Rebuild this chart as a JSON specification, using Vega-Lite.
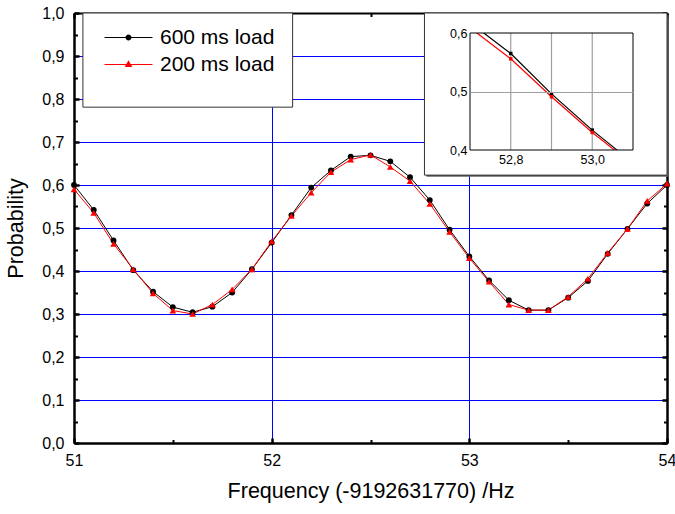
{
  "$schema": "https://vega.github.io/schema/vega-lite/v6.json",
  "width": 593,
  "height": 430,
  "autosize": {"type": "none"},
  "padding": {"left": 74, "top": 13, "right": 8, "bottom": 71},
  "background": "white",
  "config": {
    "view": {"stroke": null},
    "font": "Liberation Sans",
    "axis": {"labelFont": "Liberation Sans", "titleFont": "Liberation Sans", "labelColor": "black", "titleColor": "black", "domainColor": "black", "tickColor": "black", "titleFontWeight": "normal"}
  },
  "datasets": {
    "obs": [
      {"freq": 51.0, "load": "600 ms load", "prob": 0.600}, {"freq": 51.0, "load": "200 ms load", "prob": 0.590},
      {"freq": 51.1, "load": "600 ms load", "prob": 0.542}, {"freq": 51.1, "load": "200 ms load", "prob": 0.535},
      {"freq": 51.2, "load": "600 ms load", "prob": 0.471}, {"freq": 51.2, "load": "200 ms load", "prob": 0.463},
      {"freq": 51.3, "load": "600 ms load", "prob": 0.402}, {"freq": 51.3, "load": "200 ms load", "prob": 0.404},
      {"freq": 51.4, "load": "600 ms load", "prob": 0.352}, {"freq": 51.4, "load": "200 ms load", "prob": 0.348},
      {"freq": 51.5, "load": "600 ms load", "prob": 0.316}, {"freq": 51.5, "load": "200 ms load", "prob": 0.308},
      {"freq": 51.6, "load": "600 ms load", "prob": 0.304}, {"freq": 51.6, "load": "200 ms load", "prob": 0.300},
      {"freq": 51.7, "load": "600 ms load", "prob": 0.317}, {"freq": 51.7, "load": "200 ms load", "prob": 0.322},
      {"freq": 51.8, "load": "600 ms load", "prob": 0.350}, {"freq": 51.8, "load": "200 ms load", "prob": 0.357},
      {"freq": 51.9, "load": "600 ms load", "prob": 0.404}, {"freq": 51.9, "load": "200 ms load", "prob": 0.404},
      {"freq": 52.0, "load": "600 ms load", "prob": 0.466}, {"freq": 52.0, "load": "200 ms load", "prob": 0.469},
      {"freq": 52.1, "load": "600 ms load", "prob": 0.530}, {"freq": 52.1, "load": "200 ms load", "prob": 0.528},
      {"freq": 52.2, "load": "600 ms load", "prob": 0.594}, {"freq": 52.2, "load": "200 ms load", "prob": 0.582},
      {"freq": 52.3, "load": "600 ms load", "prob": 0.634}, {"freq": 52.3, "load": "200 ms load", "prob": 0.630},
      {"freq": 52.4, "load": "600 ms load", "prob": 0.666}, {"freq": 52.4, "load": "200 ms load", "prob": 0.659},
      {"freq": 52.5, "load": "600 ms load", "prob": 0.669}, {"freq": 52.5, "load": "200 ms load", "prob": 0.670},
      {"freq": 52.6, "load": "600 ms load", "prob": 0.655}, {"freq": 52.6, "load": "200 ms load", "prob": 0.642},
      {"freq": 52.7, "load": "600 ms load", "prob": 0.618}, {"freq": 52.7, "load": "200 ms load", "prob": 0.609},
      {"freq": 52.8, "load": "600 ms load", "prob": 0.565}, {"freq": 52.8, "load": "200 ms load", "prob": 0.556},
      {"freq": 52.9, "load": "600 ms load", "prob": 0.496}, {"freq": 52.9, "load": "200 ms load", "prob": 0.491},
      {"freq": 53.0, "load": "600 ms load", "prob": 0.434}, {"freq": 53.0, "load": "200 ms load", "prob": 0.430},
      {"freq": 53.1, "load": "600 ms load", "prob": 0.378}, {"freq": 53.1, "load": "200 ms load", "prob": 0.375},
      {"freq": 53.2, "load": "600 ms load", "prob": 0.332}, {"freq": 53.2, "load": "200 ms load", "prob": 0.322},
      {"freq": 53.3, "load": "600 ms load", "prob": 0.309}, {"freq": 53.3, "load": "200 ms load", "prob": 0.309},
      {"freq": 53.4, "load": "600 ms load", "prob": 0.309}, {"freq": 53.4, "load": "200 ms load", "prob": 0.309},
      {"freq": 53.5, "load": "600 ms load", "prob": 0.338}, {"freq": 53.5, "load": "200 ms load", "prob": 0.340},
      {"freq": 53.6, "load": "600 ms load", "prob": 0.377}, {"freq": 53.6, "load": "200 ms load", "prob": 0.382},
      {"freq": 53.7, "load": "600 ms load", "prob": 0.440}, {"freq": 53.7, "load": "200 ms load", "prob": 0.442},
      {"freq": 53.8, "load": "600 ms load", "prob": 0.498}, {"freq": 53.8, "load": "200 ms load", "prob": 0.498},
      {"freq": 53.9, "load": "600 ms load", "prob": 0.557}, {"freq": 53.9, "load": "200 ms load", "prob": 0.563},
      {"freq": 54.0, "load": "600 ms load", "prob": 0.600}, {"freq": 54.0, "load": "200 ms load", "prob": 0.603}
    ]
  },
  "layer": [
    {
      "data": {"name": "obs"},
      "layer": [
        {
          "mark": {"type": "line", "strokeWidth": 1},
          "encoding": {
            "x": {"field": "freq", "type": "quantitative", "scale": {"domain": [51, 54], "nice": false, "zero": false},
              "axis": {"orient": "bottom", "values": [51, 52, 53, 54], "format": "d", "grid": true, "gridColor": "#0000ff", "gridWidth": 1, "domainWidth": 2.5, "tickSize": -5, "tickWidth": 2.5, "labelFontSize": 16, "labelPadding": 14, "labelFlush": false, "title": "Frequency (-9192631770) /Hz", "titleFontSize": 21.5, "titlePadding": 12}},
            "y": {"field": "prob", "type": "quantitative", "scale": {"domain": [0, 1], "nice": false, "zero": false},
              "axis": {"orient": "left", "values": [0, 0.1, 0.2, 0.3, 0.4, 0.5, 0.6, 0.7, 0.8, 0.9, 1.0], "labelExpr": "replace(format(datum.value, '.1f'), '.', ',')", "grid": true, "gridColor": "#0000ff", "gridWidth": 1, "domainWidth": 2.5, "tickSize": -5, "tickWidth": 2.5, "labelFontSize": 16, "labelPadding": 15, "labelFlush": false, "title": "Probability", "titleFontSize": 21.5, "titlePadding": 14}},
            "color": {"field": "load", "type": "nominal", "scale": {"domain": ["600 ms load", "200 ms load"], "range": ["#000000", "#ff0000"]},
              "legend": {"orient": "none", "legendX": 44, "legendY": 14, "title": null, "labelFontSize": 21, "labelFont": "Liberation Sans", "labelColor": "black", "symbolSize": 400, "symbolStrokeWidth": 0, "labelOffset": 21, "rowPadding": 5, "padding": 0,
                "encode": {"symbols": {"update": {
                  "shape": {"signal": "datum.value === '600 ms load' ? 'M-2.4,-0.05H2.4V0.05H-2.4ZM-0.3,0A0.3,0.3 0 1,1 0.3,0A0.3,0.3 0 1,1 -0.3,0Z' : 'M-2.4,-0.05H2.4V0.05H-2.4ZM0,-0.42L0.38,0.24L-0.38,0.24Z'"},
                  "fill": {"signal": "datum.value === '600 ms load' ? '#000000' : '#ff0000'"},
                  "fillOpacity": {"value": 1},
                  "strokeWidth": {"value": 0},
                  "opacity": {"value": 1}}}}}}
          }
        },
        {
          "transform": [{"filter": "datum.load === '600 ms load'"}],
          "mark": {"type": "point", "filled": true, "opacity": 1, "shape": "circle", "size": 34},
          "encoding": {
            "x": {"field": "freq", "type": "quantitative",
              "axis": {"orient": "bottom", "values": [51.5, 52.5, 53.5], "labels": false, "title": null, "domain": false, "grid": false, "tickSize": -3.5, "tickWidth": 2}},
            "y": {"field": "prob", "type": "quantitative",
              "axis": {"orient": "left", "values": [0.05, 0.15, 0.25, 0.35, 0.45, 0.55, 0.65, 0.75, 0.85, 0.95], "labels": false, "title": null, "domain": false, "grid": false, "tickSize": -3.5, "tickWidth": 2}},
            "color": {"field": "load", "type": "nominal"}
          }
        },
        {
          "transform": [{"filter": "datum.load === '200 ms load'"}],
          "mark": {"type": "point", "filled": true, "opacity": 1, "shape": "triangle-up", "size": 44},
          "encoding": {
            "x": {"field": "freq", "type": "quantitative", "axis": null},
            "y": {"field": "prob", "type": "quantitative", "axis": null},
            "color": {"field": "load", "type": "nominal"}
          }
        },
        {
          "data": {"values": [{}]},
          "mark": {"type": "rect", "fill": "white", "stroke": "#333333", "strokeWidth": 1},
          "encoding": {
            "x": {"datum": 51.045, "type": "quantitative",
              "axis": {"orient": "top", "values": [51, 52, 53, 54], "labels": false, "title": null, "grid": false, "domainWidth": 2, "tickSize": -5, "tickWidth": 2.5}},
            "x2": {"datum": 52.106},
            "y": {"datum": 1.0, "type": "quantitative",
              "axis": {"orient": "right", "values": [0, 0.1, 0.2, 0.3, 0.4, 0.5, 0.6, 0.7, 0.8, 0.9, 1.0], "labels": false, "title": null, "grid": false, "domainWidth": 2.5, "tickSize": -5, "tickWidth": 2.5}},
            "y2": {"datum": 0.781}
          }
        },
        {
          "data": {"values": [{}]},
          "mark": {"type": "rect", "fill": "#666666", "stroke": null},
          "encoding": {
            "x": {"datum": 52.783, "type": "quantitative", "axis": null},
            "x2": {"datum": 54.008},
            "y": {"datum": 0.995, "type": "quantitative", "axis": null},
            "y2": {"datum": 0.619}
          }
        },
        {
          "data": {"values": [{}]},
          "mark": {"type": "rect", "fill": "white", "stroke": "#333333", "strokeWidth": 1},
          "encoding": {
            "x": {"datum": 52.773, "type": "quantitative",
              "axis": {"orient": "top", "values": [51.5, 52.5, 53.5], "labels": false, "title": null, "grid": false, "domain": false, "tickSize": -3.5, "tickWidth": 2}},
            "x2": {"datum": 54},
            "y": {"datum": 1.0, "type": "quantitative",
              "axis": {"orient": "right", "values": [0.05, 0.15, 0.25, 0.35, 0.45, 0.55, 0.65, 0.75, 0.85, 0.95], "labels": false, "title": null, "grid": false, "domain": false, "tickSize": -3.5, "tickWidth": 2}},
            "y2": {"datum": 0.623}
          }
        }
      ],
      "resolve": {"axis": {"x": "independent", "y": "independent"}}
    },
    {
      "layer": [
        {
          "data": {"name": "obs"},
          "transform": [{"filter": "datum.load === '600 ms load' && datum.freq >= 52.75 && datum.freq <= 53.05"}],
          "mark": {"type": "rule", "color": "#a0a0a0", "strokeWidth": 1.2},
          "encoding": {
            "x": {"field": "freq", "type": "quantitative", "axis": null},
            "y": {"datum": 0.4, "type": "quantitative", "axis": null},
            "y2": {"datum": 0.6}
          }
        },
        {
          "data": {"name": "obs"},
          "transform": [{"filter": "datum.freq >= 52.65 && datum.freq <= 53.15"}],
          "mark": {"type": "line", "strokeWidth": 1.2},
          "encoding": {
            "x": {"field": "freq", "type": "quantitative", "scale": {"domain": [52.7, 53.1], "range": [396, 559], "nice": false, "zero": false},
              "axis": {"orient": "bottom", "offset": -293, "values": [52.8, 53.0], "labelExpr": "replace(format(datum.value, '.1f'), '.', ',')", "labelFontSize": 12.5, "labelPadding": 3, "labelFlush": false, "ticks": false, "domain": false, "grid": false, "title": null, "zindex": 1}},
            "y": {"field": "prob", "type": "quantitative", "scale": {"domain": [0.4, 0.6], "range": [137, 20], "nice": false, "zero": false},
              "axis": {"orient": "left", "offset": -396, "values": [0.4, 0.5, 0.6], "labelExpr": "replace(format(datum.value, '.1f'), '.', ',')", "labelFontSize": 12.5, "labelPadding": 3, "labelFlush": false, "ticks": false, "domain": false, "grid": true, "gridColor": "#a0a0a0", "gridWidth": 1.2, "gridOpacity": {"condition": {"test": "datum.value > 0.45 && datum.value < 0.55", "value": 1}, "value": 0}, "title": null, "zindex": 1}},
            "color": {"field": "load", "type": "nominal"}
          }
        },
        {
          "data": {"name": "obs"},
          "transform": [{"filter": "datum.freq >= 52.75 && datum.freq <= 53.05"}],
          "mark": {"type": "point", "shape": "square", "filled": true, "size": 12, "opacity": 1},
          "encoding": {
            "x": {"field": "freq", "type": "quantitative", "axis": null},
            "y": {"field": "prob", "type": "quantitative", "axis": null},
            "color": {"field": "load", "type": "nominal"}
          }
        },
        {
          "data": {"values": [{}]},
          "mark": {"type": "rect", "fill": "white", "stroke": null},
          "encoding": {
            "x": {"datum": 52.68, "type": "quantitative", "axis": null},
            "x2": {"datum": 52.8},
            "y": {"datum": 0.6, "type": "quantitative", "axis": null},
            "y2": {"datum": 0.63}
          }
        },
        {
          "data": {"values": [{}]},
          "mark": {"type": "rect", "fill": "white", "stroke": null},
          "encoding": {
            "x": {"datum": 53.0, "type": "quantitative", "axis": null},
            "x2": {"datum": 53.12},
            "y": {"datum": 0.37, "type": "quantitative", "axis": null},
            "y2": {"datum": 0.4}
          }
        },
        {
          "data": {"values": [{}]},
          "mark": {"type": "rect", "fill": "transparent", "stroke": "#000000", "strokeWidth": 1},
          "encoding": {
            "x": {"datum": 52.7, "type": "quantitative", "axis": null},
            "x2": {"datum": 53.1},
            "y": {"datum": 0.4, "type": "quantitative", "axis": null},
            "y2": {"datum": 0.6}
          }
        }
      ],
      "resolve": {"axis": {"x": "independent", "y": "independent"}}
    }
  ],
  "resolve": {"scale": {"x": "independent", "y": "independent"}}
}
